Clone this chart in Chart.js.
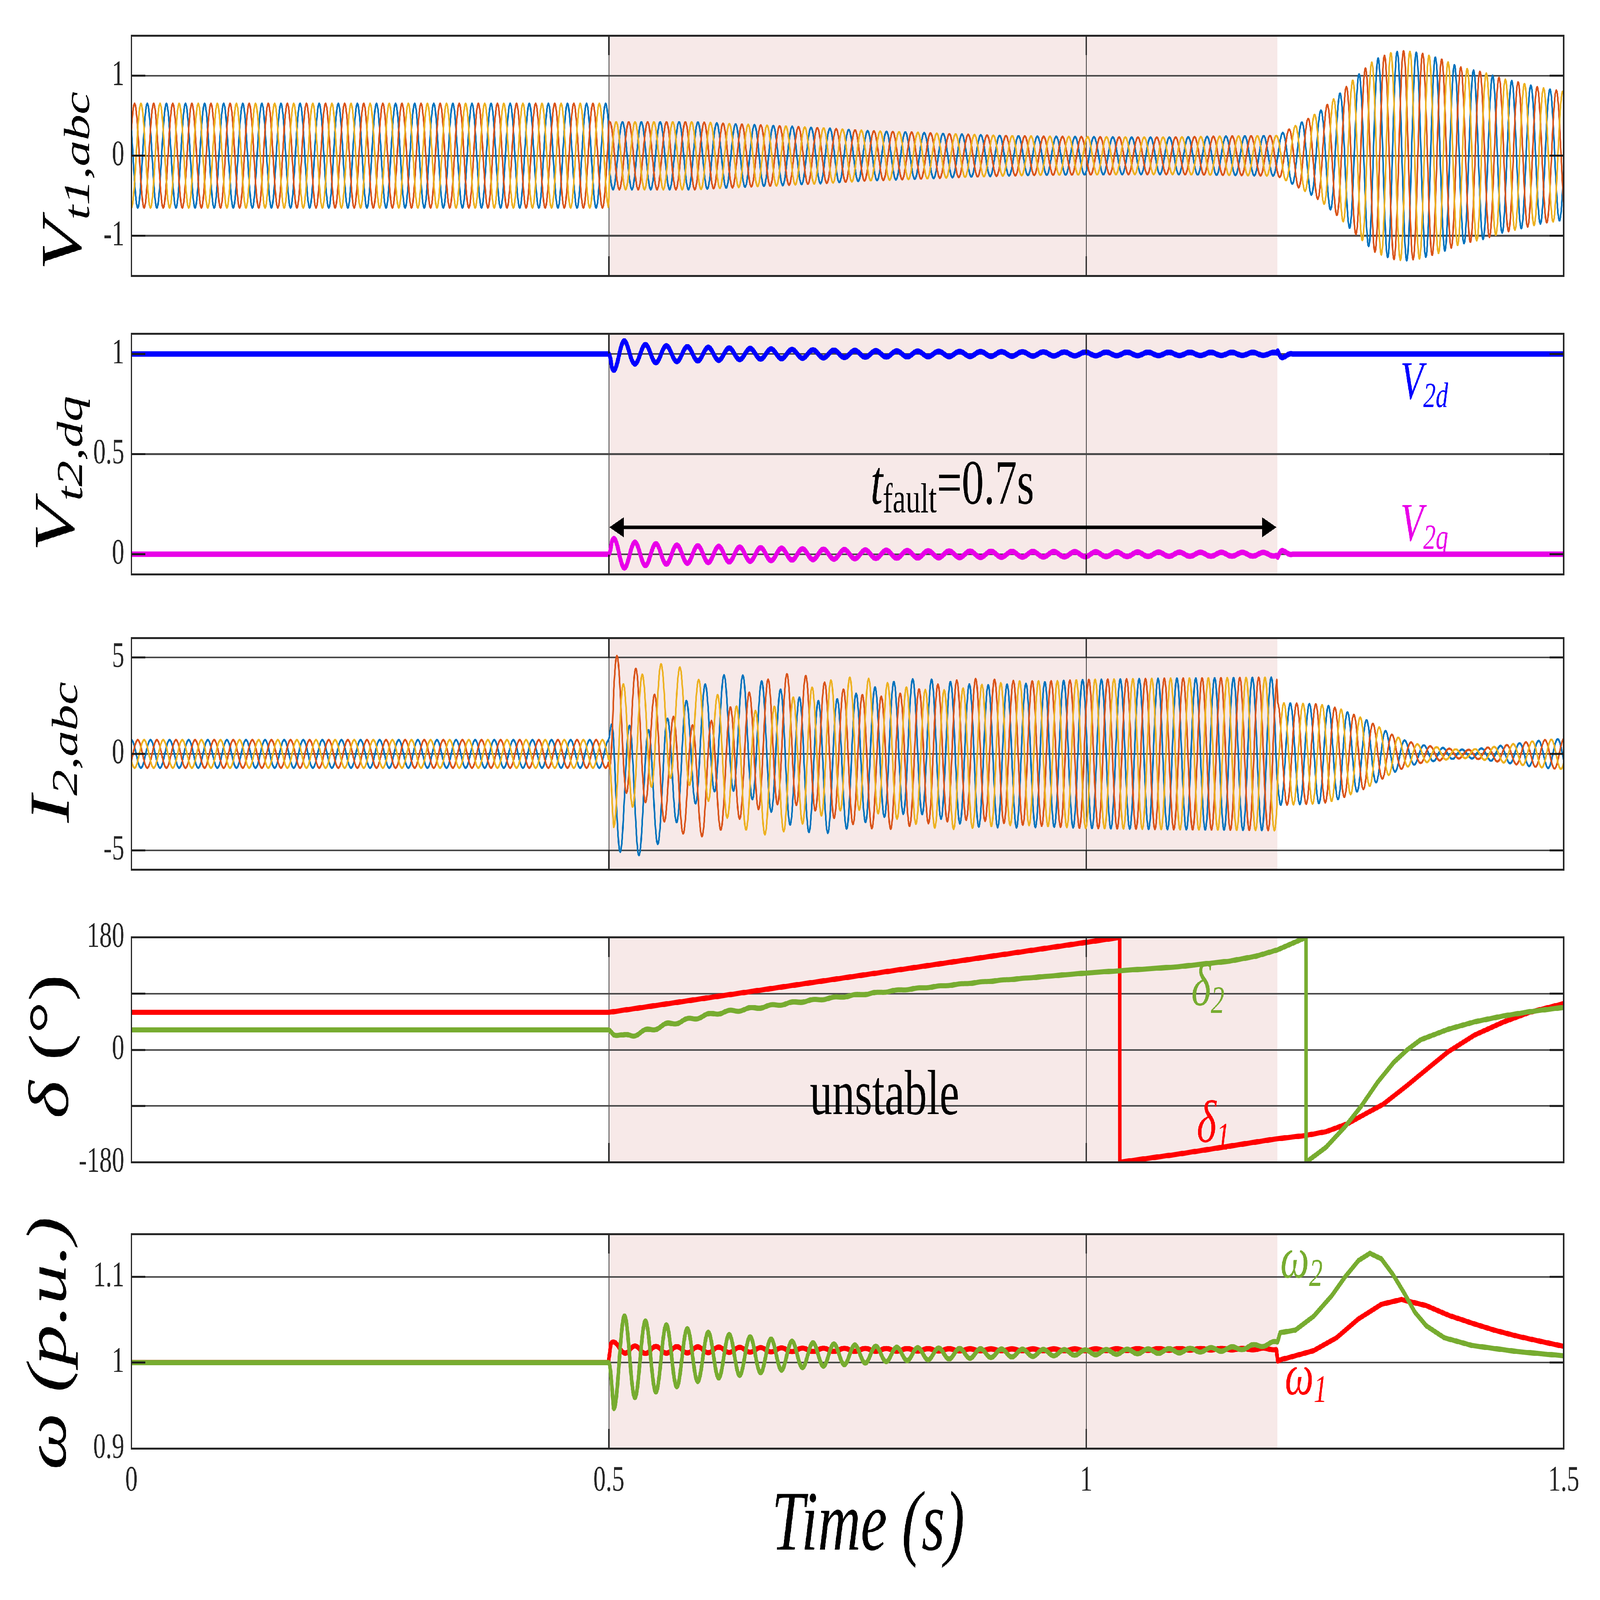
<!DOCTYPE html>
<html>
<head>
<meta charset="utf-8">
<script src="https://cdn.jsdelivr.net/npm/chart.js@4.4.1/dist/chart.umd.min.js"></script>
<style>
  html, body { margin: 0; padding: 0; background: #fff; overflow: hidden; }
  #page { position: relative; width: 7063px; height: 4931px; overflow: hidden; background: #fff; transform-origin: 0 0; }
  #page canvas { position: absolute; left: 0; }
</style>
</head>
<body>
<div id="page"></div>
<script>
// ---------- values ----------
const timeTicks = [0, 0.5, 1, 1.5];
const timeTickLabels = ["0", "0.5", "1", "1.5"];
const faultStart = 0.5;
const faultEnd = 1.2;

// V_t1,abc : envelope (p.u.) and phase drift (deg)
const vt1Time = [0, 0.4995, 0.5005, 0.55, 0.59, 0.64, 0.68, 0.73, 0.77, 0.82, 0.86, 0.91, 0.95, 1.0, 1.05, 1.09, 1.14, 1.1995, 1.208, 1.22, 1.232, 1.245, 1.264, 1.283, 1.302, 1.32, 1.334, 1.351, 1.371, 1.39, 1.416, 1.436, 1.455, 1.475, 1.5];
const vt1Amp = [0.65, 0.65, 0.42, 0.42, 0.42, 0.39, 0.37, 0.34, 0.31, 0.29, 0.27, 0.25, 0.24, 0.235, 0.23, 0.23, 0.24, 0.25, 0.3, 0.38, 0.46, 0.56, 0.76, 0.99, 1.2, 1.29, 1.31, 1.28, 1.21, 1.11, 1.04, 0.96, 0.91, 0.85, 0.8];
const vt1PhaseTime = [0, 0.4995, 0.5005, 1.2, 1.5];
const vt1PhaseShift = [0, 0, 40, 200, 200];
const vt1Angles = [60, -60, 180];
const vt1Ticks = [-1, 0, 1];
const vt1TickLabels = ["-1", "0", "1"];

// V_t2,dq : oscillation envelope around 1 (d) and 0 (q)
const v2Time = [0, 0.4995, 0.503, 0.526, 0.57, 0.636, 0.702, 0.768, 0.837, 0.92, 1.0, 1.1, 1.1995, 1.2005, 1.207, 1.216, 1.5];
const v2dAmp = [0, 0, 0.085, 0.05, 0.038, 0.028, 0.021, 0.016, 0.013, 0.011, 0.009, 0.008, 0.007, 0.04, 0.015, 0, 0];
const v2qAmp = [0, 0, 0.08, 0.06, 0.046, 0.036, 0.027, 0.021, 0.017, 0.014, 0.012, 0.01, 0.009, 0.04, 0.015, 0, 0];
const v2Ticks = [0, 0.5, 1];
const v2TickLabels = ["0", "0.5", "1"];

// I_2,abc : envelope, per-phase offsets, phase drift
const i2Time = [0, 0.4995, 0.505, 0.53, 0.55, 0.57, 0.59, 0.61, 0.63, 0.65, 0.67, 0.69, 0.71, 0.73, 0.75, 0.77, 0.79, 0.81, 0.83, 0.85, 0.87, 0.89, 0.93, 0.97, 1.0, 1.1, 1.1995, 1.2005, 1.227, 1.241, 1.253, 1.266, 1.28, 1.293, 1.307, 1.32, 1.334, 1.347, 1.36, 1.374, 1.387, 1.4, 1.414, 1.427, 1.441, 1.454, 1.467, 1.481, 1.5];
const i2Amp = [0.72, 0.72, 3.6, 3.2, 3.05, 2.9, 2.9, 2.95, 3.05, 3.15, 3.3, 3.38, 3.42, 3.42, 3.42, 3.42, 3.45, 3.48, 3.52, 3.6, 3.64, 3.68, 3.72, 3.78, 3.85, 3.92, 3.97, 2.65, 2.6, 2.58, 2.5, 2.32, 2.03, 1.77, 1.38, 1.0, 0.69, 0.5, 0.4, 0.31, 0.24, 0.21, 0.29, 0.37, 0.47, 0.56, 0.65, 0.72, 0.79];
const i2OffTime = [0.4995, 0.505, 0.53, 0.55, 0.57, 0.59, 0.61, 0.63, 0.65, 0.67, 0.69, 0.71, 0.73, 0.75, 0.77, 0.79, 0.81, 0.83, 0.85, 0.87, 0.89, 0.93, 0.97];
const i2OffA = [0, -1.4, -2.1, -1.7, -0.7, 0.3, 1.0, 1.15, 0.8, 0.3, -0.3, -0.65, -0.68, -0.45, -0.1, 0.2, 0.38, 0.38, 0.2, 0.0, -0.12, -0.1, 0];
const i2OffB = [0, 1.6, 1.17, -0.12, -1.1, -1.45, -1.2, -0.52, 0.15, 0.67, 0.8, 0.6, 0.2, -0.15, -0.42, -0.48, -0.3, -0.1, 0.07, 0.23, 0.22, 0.05, 0];
const i2OffC = [0, -0.2, 0.73, 1.62, 1.72, 1.12, 0.24, -0.52, -0.95, -0.92, -0.53, -0.03, 0.37, 0.55, 0.5, 0.25, -0.01, -0.2, -0.3, -0.25, -0.1, 0.05, 0];
const i2PhaseTime = [0, 0.4995, 0.5005, 0.86, 1.2, 1.5];
const i2PhaseShift = [0, 0, -36, 41, 115, 115];
const i2Angles = [0, -120, 120];
const i2Ticks = [-5, 0, 5];
const i2TickLabels = ["-5", "0", "5"];

// delta (deg)
const delta1Time = [0, 0.5, 1.035, 1.0351, 1.096, 1.197, 1.23, 1.251, 1.274, 1.294, 1.311, 1.336, 1.359, 1.379, 1.407, 1.436, 1.464, 1.5];
const delta1Deg = [60, 60, 180, -180, -167, -143, -137, -131, -118, -101, -87, -57, -28, -3, 24, 44, 60, 74];
const delta2Time = [0, 0.5, 0.505, 0.515, 0.53, 0.56, 0.61, 0.7, 0.8, 0.9, 1.0, 1.096, 1.15, 1.178, 1.2, 1.215, 1.23, 1.2301, 1.251, 1.271, 1.288, 1.305, 1.322, 1.336, 1.35, 1.379, 1.407, 1.436, 1.464, 1.5];
const delta2Deg = [32, 32, 27, 21, 26, 40, 58, 77, 95, 110, 123, 133, 142, 150, 160, 170, 180, -180, -156, -123, -90, -52, -20, 0, 16, 33, 45, 54, 61, 68];
const delta2WigTime = [0, 0.4995, 0.505, 0.6, 0.7, 0.8, 0.9, 1.0];
const delta2WigAmp = [0, 0, 3, 2, 1.2, 0.7, 0.4, 0];
const deltaTicks = [-180, -90, 0, 90, 180];
const deltaTickLabels = ["-180", "", "0", "", "180"];

// omega (p.u.)
const w1Time = [0, 0.4995, 0.502, 0.52, 0.6, 0.8, 1.0, 1.199, 1.2005, 1.209, 1.238, 1.262, 1.285, 1.309, 1.33, 1.356, 1.38, 1.404, 1.427, 1.451, 1.475, 1.5];
const w1Mean = [1, 1, 1.02, 1.015, 1.015, 1.015, 1.015, 1.016, 1.002, 1.005, 1.014, 1.029, 1.051, 1.068, 1.0736, 1.0665, 1.055, 1.046, 1.038, 1.031, 1.025, 1.019];
const w1WigTime = [0, 0.4995, 0.503, 0.55, 0.7, 0.9, 1.2, 1.21];
const w1WigAmp = [0, 0, 0.005, 0.004, 0.002, 0.001, 0.001, 0];
const w2Time = [0, 0.4995, 0.52, 0.6, 0.8, 1.0, 1.1, 1.15, 1.17, 1.185, 1.2, 1.203, 1.219, 1.238, 1.257, 1.271, 1.285, 1.297, 1.309, 1.321, 1.333, 1.344, 1.356, 1.375, 1.404, 1.451, 1.5];
const w2Mean = [1, 1, 1.005, 1.008, 1.01, 1.012, 1.014, 1.016, 1.018, 1.021, 1.023, 1.035, 1.038, 1.054, 1.078, 1.1, 1.119, 1.1275, 1.121, 1.103, 1.081, 1.059, 1.043, 1.029, 1.02, 1.013, 1.008];
const w2WigTime = [0, 0.4995, 0.505, 0.53, 0.6, 0.7, 0.8, 0.9, 1.0, 1.2, 1.2005];
const w2WigAmp = [0, 0, 0.055, 0.045, 0.028, 0.015, 0.008, 0.005, 0.003, 0.002, 0];
const omegaTicks = [0.9, 1, 1.1];
const omegaTickLabels = ["0.9", "1", "1.1"];

const F_GRID = 50;     // Hz, abc waveforms
const F_OSC = 45.6;    // Hz, rotor/dq oscillation

// ---------- page geometry ----------
const PAGE_W = 7063;
const PAGE_H = 4931;
const PLOT_L = 580;
const PLOT_R = 6903;
const PAD = 40;
const SERIF = "'Liberation Serif', 'Times New Roman', serif";
const TICK_FONT = { family: "Liberation Serif", size: 110 };
const INK = "#262626";

function interp(xs, ys, t) {
  if (t <= xs[0]) return ys[0];
  for (let i = 1; i < xs.length; i++) {
    if (t <= xs[i]) {
      const f = (t - xs[i - 1]) / (xs[i] - xs[i - 1]);
      return ys[i - 1] + f * (ys[i] - ys[i - 1]);
    }
  }
  return ys[ys.length - 1];
}

const sampleT = [];
for (let i = 0; i <= 6000; i++) sampleT.push(i * 0.00025);

function phaseWave(ampT, ampV, phT, phV, angle, offT, offV) {
  return sampleT.map((t) => {
    const a = interp(ampT, ampV, t);
    const ph = (angle + interp(phT, phV, t)) * Math.PI / 180;
    const off = offT ? interp(offT, offV, t) : 0;
    return { x: t, y: off + a * Math.cos(2 * Math.PI * F_GRID * t + ph) };
  });
}

function oscWave(meanT, meanV, ampT, ampV, sign) {
  return sampleT.map((t) => {
    const m = interp(meanT, meanV, t);
    const a = interp(ampT, ampV, t);
    const s = t > faultStart ? Math.sin(2 * Math.PI * F_OSC * (t - faultStart)) : 0;
    return { x: t, y: m + sign * a * s };
  });
}

function knotLine(ts, vs) {
  return ts.map((t, i) => ({ x: t, y: vs[i] }));
}

function line(data, color, width) {
  return {
    data, borderColor: color, borderWidth: width, pointRadius: 0,
    tension: 0, fill: false, borderJoinStyle: "round", borderCapStyle: "round"
  };
}

// ---------- text helpers ----------
function drawRuns(ctx, runs, x, y, align) {
  let w = 0;
  runs.forEach((r) => { ctx.font = r.font; w += ctx.measureText(r.text).width; });
  let cx = align === "center" ? x - w / 2 : x;
  runs.forEach((r) => {
    ctx.font = r.font;
    ctx.fillStyle = r.color || "#000";
    ctx.fillText(r.text, cx, y + (r.dy || 0));
    cx += ctx.measureText(r.text).width;
  });
}

function it(size) { return `italic ${size}px ${SERIF}`; }
function up(size) { return `${size}px ${SERIF}`; }

// decorations: shading, frame, inward ticks, labels
const panelDeco = {
  id: "panelDeco",
  beforeDraw(chart, args, opts) {
    const { ctx, chartArea: a, scales } = chart;
    ctx.save();
    ctx.fillStyle = "#f7e9e8";
    const x0 = scales.x.getPixelForValue(faultStart);
    const x1 = scales.x.getPixelForValue(faultEnd);
    ctx.fillRect(x0, a.top, x1 - x0, a.bottom - a.top);
    ctx.restore();
  },
  afterDraw(chart, args, opts) {
    const { ctx, chartArea: a, scales } = chart;
    ctx.save();
    // inward ticks
    ctx.strokeStyle = "#1a1a1a";
    ctx.lineWidth = 6;
    ctx.beginPath();
    opts.yTicks.forEach((v) => {
      const y = scales.y.getPixelForValue(v);
      ctx.moveTo(a.left, y); ctx.lineTo(a.left + 62, y);
      ctx.moveTo(a.right, y); ctx.lineTo(a.right - 62, y);
    });
    timeTicks.forEach((v) => {
      const x = scales.x.getPixelForValue(v);
      ctx.moveTo(x, a.bottom); ctx.lineTo(x, a.bottom - 60);
      ctx.moveTo(x, a.top); ctx.lineTo(x, a.top + 60);
    });
    ctx.stroke();
    // frame
    ctx.strokeStyle = INK;
    ctx.lineWidth = 6;
    ctx.strokeRect(a.left, a.top, a.right - a.left, a.bottom - a.top);
    // labels in page coordinates
    ctx.translate(0, -opts.canvasTop);
    ctx.textBaseline = "alphabetic";
    if (opts.title) {
      ctx.save();
      ctx.translate(opts.title.x, opts.title.y);
      ctx.rotate(-Math.PI / 2);
      drawRuns(ctx, opts.title.runs, 0, 0, "center");
      ctx.restore();
    }
    (opts.notes || []).forEach((n) => drawRuns(ctx, n.runs, n.x, n.y, n.align || "left"));
    if (opts.arrow) {
      const { x0, x1, y } = opts.arrow;
      ctx.strokeStyle = "#000";
      ctx.fillStyle = "#000";
      ctx.lineWidth = 11;
      ctx.beginPath(); ctx.moveTo(x0 + 40, y); ctx.lineTo(x1 - 40, y); ctx.stroke();
      ctx.beginPath(); ctx.moveTo(x0, y); ctx.lineTo(x0 + 64, y - 31); ctx.lineTo(x0 + 64, y + 31); ctx.closePath(); ctx.fill();
      ctx.beginPath(); ctx.moveTo(x1, y); ctx.lineTo(x1 - 64, y - 31); ctx.lineTo(x1 - 64, y + 31); ctx.closePath(); ctx.fill();
    }
    ctx.restore();
  }
};

const page = document.getElementById("page");
// the window may be smaller than the figure: stretch the figure to fill it
const sx = Math.min(1, window.innerWidth / PAGE_W);
const sy = Math.min(1, window.innerHeight / PAGE_H);
if (sx < 0.999 || sy < 0.999) page.style.transform = `scale(${sx}, ${sy})`;

function makePanel(p) {
  const canvas = document.createElement("canvas");
  const cTop = p.top - PAD;
  const below = p.below || PAD;
  const cH = (p.bottom - p.top) + PAD + below;
  canvas.width = PAGE_W;
  canvas.height = cH;
  canvas.style.top = cTop + "px";
  canvas.style.width = PAGE_W + "px";
  canvas.style.height = cH + "px";
  page.appendChild(canvas);
  const z = p.gridOnTop ? 1 : 0;
  return new Chart(canvas, {
    type: "line",
    data: { datasets: p.datasets },
    options: {
      responsive: false,
      animation: false,
      devicePixelRatio: 1,
      events: [],
      parsing: false,
      normalized: true,
      layout: { padding: { top: PAD, bottom: p.showX ? 0 : PAD, left: 0, right: PAGE_W - PLOT_R } },
      plugins: {
        legend: { display: false },
        tooltip: { enabled: false },
        panelDeco: {
          canvasTop: cTop, yTicks: p.yTicks, title: p.title, notes: p.notes, arrow: p.arrow
        }
      },
      scales: {
        x: {
          type: "linear", min: 0, max: 1.5, z,
          afterBuildTicks: (s) => { s.ticks = timeTicks.map((v) => ({ value: v })); },
          afterFit: (s) => { s.height = p.showX ? below : 0; },
          grid: { color: "rgba(35,35,35,0.85)", lineWidth: 4, drawTicks: false },
          border: { display: false },
          ticks: {
            display: !!p.showX, padding: 35, font: TICK_FONT, color: INK,
            maxRotation: 0, autoSkip: false,
            callback: (v, i) => timeTickLabels[i]
          }
        },
        y: {
          type: "linear", min: p.yMin, max: p.yMax, z,
          afterBuildTicks: (s) => { s.ticks = p.yTicks.map((v) => ({ value: v })); },
          afterFit: (s) => { s.width = PLOT_L; },
          grid: { color: "#4a4a4a", lineWidth: 5, drawTicks: false },
          border: { display: false },
          ticks: {
            padding: 31, font: TICK_FONT, color: INK, autoSkip: false,
            callback: (v, i) => p.yLabels[i]
          }
        }
      }
    },
    plugins: [panelDeco]
  });
}

const C_A = "#0072BD", C_B = "#D95319", C_C = "#EDB120";
const C_RED = "#FF0000", C_GREEN = "#77AC30";

// Panel 1: V_t1,abc
makePanel({
  top: 53, bottom: 907, yMin: -1.5, yMax: 1.5, yTicks: vt1Ticks, yLabels: vt1TickLabels, gridOnTop: true,
  datasets: [
    line(phaseWave(vt1Time, vt1Amp, vt1PhaseTime, vt1PhaseShift, vt1Angles[2]), C_C, 7),
    line(phaseWave(vt1Time, vt1Amp, vt1PhaseTime, vt1PhaseShift, vt1Angles[1]), C_B, 7),
    line(phaseWave(vt1Time, vt1Amp, vt1PhaseTime, vt1PhaseShift, vt1Angles[0]), C_A, 7)
  ],
  title: { x: 357, y: 558, runs: [
    { text: "V", font: it(256) }, { text: "t1,abc", font: it(160), dy: 36 }
  ] }
});

// Panel 2: V_t2,dq
makePanel({
  top: 972, bottom: 1827, yMin: -0.1, yMax: 1.1, yTicks: v2Ticks, yLabels: v2TickLabels,
  datasets: [
    line(oscWave([0], [1], v2Time, v2dAmp, -1), "#0000FF", 17),
    line(oscWave([0], [0], v2Time, v2qAmp, 1), "#E800E8", 17)
  ],
  title: { x: 326, y: 1460, runs: [
    { text: "V", font: it(256) }, { text: "t2,dq", font: it(160), dy: 36 }
  ] },
  notes: [
    { x: 6182, y: 1229, runs: [
      { text: "V", font: it(165), color: "#0000FF" }, { text: "2d", font: it(110), dy: 26, color: "#0000FF" }
    ] },
    { x: 6182, y: 1666, runs: [
      { text: "V", font: it(165), color: "#E800E8" }, { text: "2q", font: it(110), dy: 26, color: "#E800E8" }
    ] },
    { x: 3843, y: 1552, runs: [
      { text: "t", font: it(195) }, { text: "fault", font: up(130), dy: 27 }, { text: "=0.7s", font: up(195) }
    ] }
  ],
  arrow: { x0: 2690, x1: 5635, y: 1625 }
});

// Panel 3: I_2,abc
makePanel({
  top: 1910, bottom: 2737, yMin: -6, yMax: 6, yTicks: i2Ticks, yLabels: i2TickLabels, gridOnTop: true,
  datasets: [
    line(phaseWave(i2Time, i2Amp, i2PhaseTime, i2PhaseShift, i2Angles[2], i2OffTime, i2OffC), C_C, 7),
    line(phaseWave(i2Time, i2Amp, i2PhaseTime, i2PhaseShift, i2Angles[1], i2OffTime, i2OffB), C_B, 7),
    line(phaseWave(i2Time, i2Amp, i2PhaseTime, i2PhaseShift, i2Angles[0], i2OffTime, i2OffA), C_A, 7)
  ],
  title: { x: 304, y: 2318, runs: [
    { text: "I", font: it(250) }, { text: "2,abc", font: it(160), dy: 36 }
  ] }
});

// Panel 4: delta
const delta2Data = sampleT.map((t) => {
  const m = interp(delta2Time, delta2Deg, t);
  const a = interp(delta2WigTime, delta2WigAmp, t);
  return { x: t, y: m - a * Math.sin(2 * Math.PI * F_OSC * (t - faultStart)) };
});
makePanel({
  top: 2832, bottom: 3639, yMin: -180, yMax: 180, yTicks: deltaTicks, yLabels: deltaTickLabels,
  datasets: [
    line(delta2Data, C_GREEN, 16),
    line(knotLine(delta1Time, delta1Deg), C_RED, 16)
  ],
  title: { x: 300, y: 3225, runs: [
    { text: "\u03B4", font: it(250) }, { text: " (\u00B0)", font: up(250) }
  ] },
  notes: [
    { x: 3905, y: 3434, align: "center", runs: [{ text: "unstable", font: up(198) }] },
    { x: 5259, y: 3098, runs: [
      { text: "\u03B4", font: it(185), color: C_GREEN }, { text: "2", font: it(120), dy: 24, color: C_GREEN }
    ] },
    { x: 5283, y: 3519, runs: [
      { text: "\u03B4", font: it(185), color: C_RED }, { text: "1", font: it(120), dy: 24, color: C_RED }
    ] }
  ]
});

// Panel 5: omega
makePanel({
  top: 3746, bottom: 4464, below: PAGE_H - 4464, showX: true,
  yMin: 0.9, yMax: 1.15, yTicks: omegaTicks, yLabels: omegaTickLabels,
  datasets: [
    line(oscWave(w2Time, w2Mean, w2WigTime, w2WigAmp, -1), C_GREEN, 16),
    line(oscWave(w1Time, w1Mean, w1WigTime, w1WigAmp, 1), C_RED, 16)
  ],
  title: { x: 290, y: 4140, runs: [{ text: "\u03C9 (p.u.)", font: it(250) }] },
  notes: [
    { x: 5652, y: 3937, runs: [
      { text: "\u03C9", font: it(180), color: C_GREEN }, { text: "2", font: it(120), dy: 26, color: C_GREEN }
    ] },
    { x: 5672, y: 4297, runs: [
      { text: "\u03C9", font: it(180), color: C_RED }, { text: "1", font: it(120), dy: 24, color: C_RED }
    ] },
    { x: 3832, y: 4776, align: "center", runs: [{ text: "Time (s)", font: it(262) }] }
  ]
});
</script>
</body>
</html>
